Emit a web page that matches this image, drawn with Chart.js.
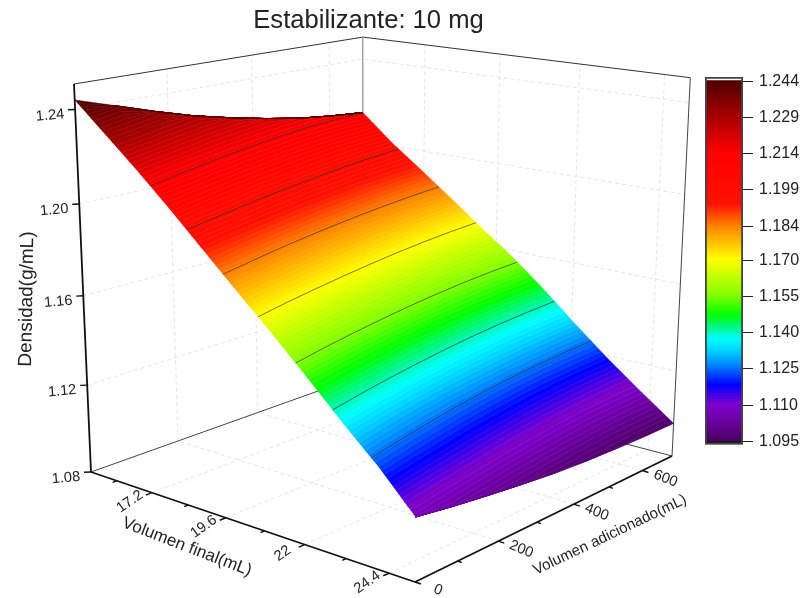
<!DOCTYPE html>
<html>
<head>
<meta charset="utf-8">
<title>Estabilizante: 10 mg</title>
<script src="https://cdn.jsdelivr.net/npm/chart.js@4"></script>
<style>
html,body{margin:0;padding:0;background:#fff;}
#main{position:absolute;left:0;top:0;}
#bar{position:absolute;left:700px;top:60px;}
</style>
</head>
<body>
<canvas id="main" width="804" height="598"></canvas>
<canvas id="bar" width="104" height="400"></canvas>
<script>
// ---- data ----
const titleText = 'Estabilizante: 10 mg';
const xLabel = 'Volumen final(mL)';
const yLabel = 'Volumen adicionado(mL)';
const zLabel = 'Densidad(g/mL)';
const xValues = [15.1,16.1,17.1,18.1,19.1,20.1,21.1,22.1,23.1,24.1,25.1];
const yValues = [0,86.5,173,259.5,346,432.5,519,605.5,692];
const surfaceZ = [
 [1.2440,1.2385,1.2330,1.2280,1.2240,1.2205,1.2175,1.2155,1.2140],
 [1.2315,1.2261,1.2211,1.2166,1.2127,1.2092,1.2061,1.2036,1.2016],
 [1.2190,1.2138,1.2091,1.2048,1.2011,1.1979,1.1949,1.1926,1.1907],
 [1.2058,1.2009,1.1964,1.1924,1.1889,1.1859,1.1833,1.1812,1.1796],
 [1.1920,1.1874,1.1832,1.1796,1.1764,1.1736,1.1713,1.1695,1.1681],
 [1.1782,1.1740,1.1703,1.1670,1.1641,1.1617,1.1597,1.1582,1.1572],
 [1.1647,1.1607,1.1571,1.1540,1.1513,1.1490,1.1472,1.1458,1.1448],
 [1.1506,1.1467,1.1433,1.1403,1.1377,1.1355,1.1337,1.1324,1.1315],
 [1.1361,1.1324,1.1292,1.1264,1.1240,1.1220,1.1205,1.1194,1.1187],
 [1.1223,1.1189,1.1160,1.1134,1.1113,1.1095,1.1082,1.1074,1.1069],
 [1.1066,1.1040,1.1018,1.0998,1.0981,1.0969,1.0961,1.0956,1.0955]
];
const xMajor = [17.2,19.6,22,24.4];
const xMinor = [16,18.4,20.8,23.2];
const yMajor = [0,200,400,600];
const yMinor = [100,300,500];
const zMajor = [1.08,1.12,1.16,1.20,1.24];
const barTicks = [1.095,1.110,1.125,1.140,1.155,1.170,1.184,1.199,1.214,1.229,1.244];
const contourLevels = [1.110,1.125,1.140,1.155,1.170,1.184,1.199,1.214,1.229];
const colorValues = [1.095,1.103,1.110,1.118,1.122,1.127,1.132,1.137,1.141,1.147,1.155,1.170,1.184,1.193,1.214,1.229,1.244];
const colorHex = ['#4b0060','#6a00a0','#7f00d0','#0000ff','#0040ff','#0090ff','#00d0ff','#00ffff','#00f5a0','#00ff00','#80ff00','#ffff00','#ff8000','#ff1000','#ff0000','#a80000','#4d0000'];
const bandCount = 120;
const xRange = [15.1,25.1];
const yRange = [0,692];
const zRange = [1.08,1.2506];

// ---- view of the 3D box (perspective) ----
const FONT = '"Liberation Sans", Arial, sans-serif';
const view = {O:[91,472],A:[415,582],B:[363,375],C:[74,84],a:0.8703,b:1.1563,c:0.942};
function project(x,y,z){
  const u=(x-xRange[0])/(xRange[1]-xRange[0]), v=(y-yRange[0])/(yRange[1]-yRange[0]), w=(z-zRange[0])/(zRange[1]-zRange[0]);
  const W=1+u*(view.a-1)+v*(view.b-1)+w*(view.c-1);
  const f=i=>(view.O[i]+u*(view.a*view.A[i]-view.O[i])+v*(view.b*view.B[i]-view.O[i])+w*(view.c*view.C[i]-view.O[i]))/W;
  return {x:f(0),y:f(1)};
}
function hexRgb(h){return [1,3,5].map(i=>parseInt(h.substr(i,2),16));}
function colorAt(val){
  if(val<=colorValues[0]) return colorHex[0];
  for(let i=0;i<colorValues.length-1;i++){
    if(val<=colorValues[i+1]){
      const t=(val-colorValues[i])/(colorValues[i+1]-colorValues[i]);
      const p=hexRgb(colorHex[i]),q=hexRgb(colorHex[i+1]);
      return 'rgb('+p.map((c,k)=>Math.round(c+(q[k]-c)*t)).join(',')+')';
    }
  }
  return colorHex[colorHex.length-1];
}
// where a level meets one column of the surface
function crossing(j,level){
  const n=xValues.length;
  if(level>=surfaceZ[0][j]) return project(xValues[0],yValues[j],surfaceZ[0][j]);
  if(level<=surfaceZ[n-1][j]) return project(xValues[n-1],yValues[j],surfaceZ[n-1][j]);
  for(let i=0;i<n-1;i++){
    const p=surfaceZ[i][j],q=surfaceZ[i+1][j];
    if(level<=p&&level>=q){
      const t=(p-level)/(p-q);
      return project(xValues[i]+t*(xValues[i+1]-xValues[i]),yValues[j],level);
    }
  }
}
const zMin=1.095,zMax=1.244,bandStep=(zMax-zMin)/bandCount;
const ds=[];
function line(points,color,width,dash){
  ds.push({data:points,borderColor:color,borderWidth:width,borderDash:dash||[],pointRadius:0,showLine:true,fill:false,tension:0});
}
const gridColor='#e6e6e6',dash=[4,3];
const X0=xRange[0],X1=xRange[1],Y0=yRange[0],Y1=yRange[1],Z0=zRange[0],Z1=zRange[1];
// walls and floor grid
xMajor.forEach(x=>{
  line([project(x,Y0,Z0),project(x,Y1,Z0)],gridColor,1,dash);
  line([project(x,Y1,Z0),project(x,Y1,Z1)],gridColor,1,dash);
});
yMajor.forEach(y=>{
  if(y===0) return;
  line([project(X1,y,Z0),project(X0,y,Z0)],gridColor,1,dash);
  line([project(X0,y,Z0),project(X0,y,Z1)],gridColor,1,dash);
});
zMajor.forEach(z=>{
  if(z===Z0) return;
  line([project(X0,Y0,z),project(X0,Y1,z),project(X1,Y1,z)],gridColor,1,dash);
});
// box
line([project(X0,Y0,Z1),project(X0,Y1,Z1),project(X1,Y1,Z1)],'#333',1);
line([project(X0,Y1,Z0),project(X0,Y1,Z1)],'#777',1);
line([project(X0,Y0,Z0),project(X0,Y1,Z0),project(X1,Y1,Z0)],'#444',1);
line([project(X1,Y1,Z0),project(X1,Y1,Z1)],'#444',1);
// surface, one polygon per colour band
for(let b=0;b<bandCount;b++){
  const lo=zMin+b*bandStep,hi=lo+bandStep,upper=[],lower=[];
  yValues.forEach((y,j)=>{upper.push(crossing(j,hi));lower.push(crossing(j,lo));});
  const col=colorAt((lo+hi)/2);
  ds.push({data:upper.concat(lower.reverse()),backgroundColor:col,borderColor:col,borderWidth:0.5,borderJoinStyle:'round',pointRadius:0,showLine:true,fill:'shape',tension:0});
}
// contour lines
contourLevels.forEach(level=>{
  const pts=[];
  yValues.forEach((y,j)=>{
    const n=xValues.length;
    if(level<=surfaceZ[0][j]&&level>=surfaceZ[n-1][j]) pts.push(crossing(j,level));
  });
  line(pts,level===1.229||level===1.110?'rgba(40,40,40,0.35)':'rgba(40,40,40,0.7)',0.9);
});
// axes with ticks
line([project(X0,Y0,Z0),project(X0,Y0,Z1)],'#111',1.8);
line([project(X0,Y0,Z0),project(X1,Y0,Z0)],'#111',1.8);
line([project(X1,Y0,Z0),project(X1,Y1,Z0)],'#111',1.8);
function tick(p,dx,dy){line([p,{x:p.x+dx,y:p.y+dy}],'#111',1.4);}
xMajor.forEach(x=>tick(project(x,Y0,Z0),-6,2.5));
xMinor.forEach(x=>tick(project(x,Y0,Z0),-4,1.7));
yMajor.forEach(y=>tick(project(X1,y,Z0),6,2));
yMinor.forEach(y=>tick(project(X1,y,Z0),4,1.4));
zMajor.forEach(z=>tick(project(X0,Y0,z),-7,0.3));
ds.forEach((d,i)=>{d.order=ds.length-i;});

const textPlugin={id:'texts',afterDraw(chart){
  const c=chart.ctx;
  function put(text,x,y,deg,size){
    c.save();c.translate(x,y);c.rotate(deg*Math.PI/180);
    c.font=size+'px '+FONT;c.fillStyle='#222';c.textAlign='center';c.textBaseline='middle';
    c.fillText(text,0,0);c.restore();
  }
  put(titleText,368.5,21,0,25.6);
  zMajor.forEach(z=>{const p=project(X0,Y0,z);put(z.toFixed(2),p.x-25,p.y+6,-5,14.6);});
  xMajor.forEach(x=>{const p=project(x,Y0,Z0);put(String(x),p.x-22,p.y+9,-35,14.6);});
  yMajor.forEach(y=>{const p=project(X1,y,Z0);put(String(y),p.x+23,p.y+8,22,14.6);});
  put(xLabel,187,547,21,17);
  put(yLabel,610,535,-25.5,15.2);
  put(zLabel,27,299,-89,19);
}};

new Chart(document.getElementById('main'),{
  type:'scatter',
  data:{datasets:ds},
  plugins:[textPlugin],
  options:{
    responsive:false,animation:false,devicePixelRatio:1,
    layout:{padding:0},
    plugins:{legend:{display:false},tooltip:{enabled:false},title:{display:false}},
    events:[],
    scales:{
      x:{type:'linear',min:0,max:804,display:false},
      y:{type:'linear',min:0,max:598,reverse:true,display:false}
    }
  }
});

// ---- colour bar with its own axis ----
const barDatasets=[];
barDatasets.push({data:[[1.0938,1.2457]],backgroundColor:'rgba(0,0,0,0)',borderColor:'#444',borderWidth:1.5,borderSkipped:false,barPercentage:1,categoryPercentage:1,order:0});
barDatasets.push({data:[[1.0938,zMin]],backgroundColor:'#000',barPercentage:1,categoryPercentage:1,order:1});
for(let b=0;b<bandCount;b++){
  const lo=zMin+b*bandStep;
  barDatasets.push({data:[[lo,lo+bandStep+0.0002]],backgroundColor:colorAt(lo+bandStep/2),borderWidth:0,barPercentage:1,categoryPercentage:1,order:2});
}
new Chart(document.getElementById('bar'),{
  type:'bar',
  data:{labels:[''],datasets:barDatasets},
  options:{
    responsive:false,animation:false,devicePixelRatio:1,events:[],
    layout:{padding:{left:5,top:17,bottom:15,right:0}},
    plugins:{legend:{display:false},tooltip:{enabled:false}},
    scales:{
      x:{stacked:true,display:false},
      y:{type:'linear',position:'right',min:1.0938,max:1.2457,
        afterBuildTicks(s){s.ticks=barTicks.map(v=>({value:v}));},
        afterFit(s){s.width=61;},
        grid:{drawOnChartArea:false,drawTicks:true,tickLength:10,color:'#222',lineWidth:1},
        border:{display:false},
        ticks:{color:'#222',padding:6,font:{family:FONT,size:16},autoSkip:false,callback:v=>Number(v).toFixed(3)}
      }
    }
  }
});
</script>
</body>
</html>
